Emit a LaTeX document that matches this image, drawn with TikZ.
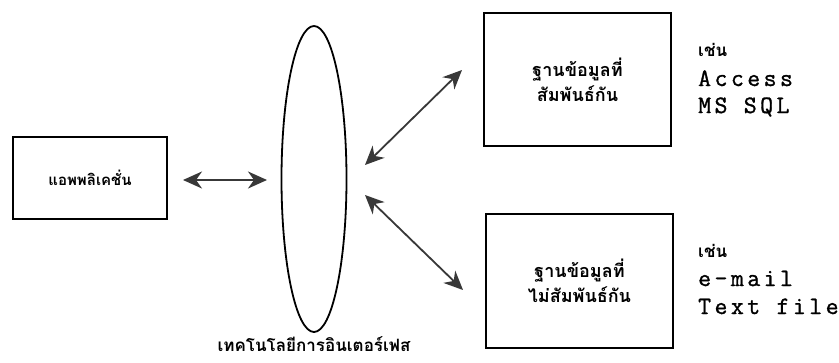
\documentclass[tikz,border=0pt]{standalone}
\usepackage{fontspec}
\newfontfamily\thaifont[Script=Thai]{Loma}
\newfontfamily\codefont[LetterSpace=14,FakeBold=1.2]{Latin Modern Mono}
\usetikzlibrary{shapes.geometric,arrows.meta}
\begin{document}
\begin{tikzpicture}[x=1pt,y=-1pt,
  box/.style={draw=black,line width=1.5pt,rectangle,inner sep=0pt,align=center,
    font=\thaifont\bfseries\fontsize{18}{25}\selectfont},
  lbl/.style={inner sep=0pt,anchor=base west},
  thai/.style={font=\thaifont\bfseries\fontsize{17}{20}\selectfont},
  mono/.style={font=\codefont\fontsize{25}{28}\selectfont},
  link/.style={draw=black!78,line width=1.8pt,
    {Stealth[length=19pt,width=17pt,inset=6pt]}-{Stealth[length=19pt,width=17pt,inset=6pt]}}]
\useasboundingbox (0,0) rectangle (839,362);
\fill[white] (0,0) rectangle (839,362);

\node[box,minimum width=154pt,minimum height=82pt,font=\thaifont\bfseries\fontsize{15}{18}\selectfont] (app) at (90,178) {แอพพลิเคชั่น};
\node[draw=black,line width=1.8pt,ellipse,minimum width=65pt,minimum height=306pt,inner sep=0pt] (ifc) at (314,179) {};
\node[inner sep=0pt,anchor=base,thai] (ifclbl) at (314,351) {เทคโนโลยีการอินเตอร์เฟส};

\node[box,minimum width=187pt,minimum height=133pt] (db1) at (577.5,79.5) {ฐานข้อมูลที่\\สัมพันธ์กัน};
\node[box,minimum width=187pt,minimum height=134pt] (db2) at (579.5,281) {ฐานข้อมูลที่\\ไม่สัมพันธ์กัน};

\node[lbl,thai] (eg1) at (698,56) {เช่น};
\node[lbl,mono] (acc) at (698,86) {Access};
\node[lbl,mono] (sql) at (698,113) {MS SQL};
\node[lbl,thai] (eg2) at (698,257) {เช่น};
\node[lbl,mono] (mail) at (698,286) {e-mail};
\node[lbl,mono] (txt) at (698,314) {Text file};

\coordinate (a1) at (183,180);
\coordinate (a2) at (267,180);
\coordinate (u1) at (365,165);
\coordinate (u2) at (462,70);
\coordinate (l1) at (365,195);
\coordinate (l2) at (463,290);
\draw[link] (a1) -- (a2);
\draw[link] (u1) -- (u2);
\draw[link] (l1) -- (l2);
\end{tikzpicture}
\end{document}
